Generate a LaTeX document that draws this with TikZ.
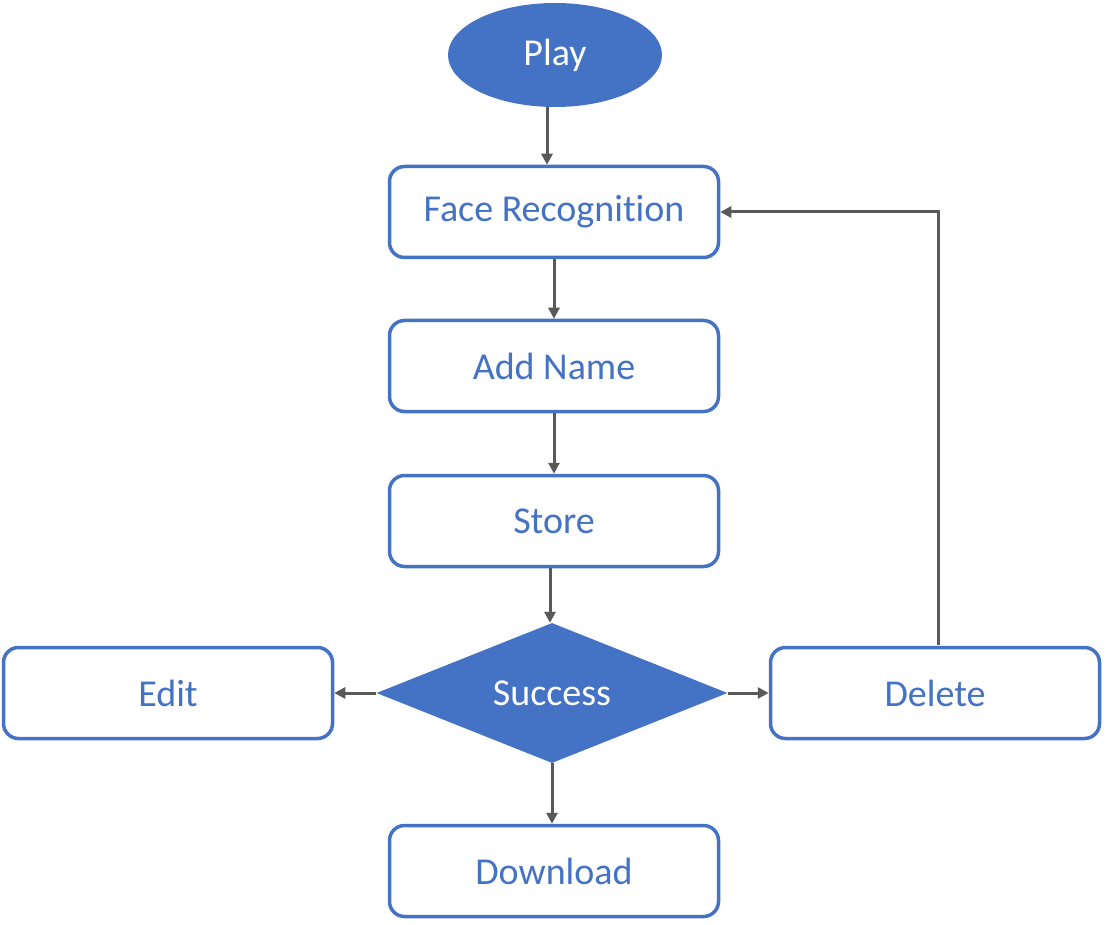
\documentclass[tikz,border=0pt]{standalone}
\usepackage{fontspec}
\setmainfont{Carlito}[RawFeature={-liga;-clig;-dlig}]
\usetikzlibrary{shapes.geometric,arrows.meta}
\definecolor{accent}{HTML}{4472C4}
\definecolor{linegray}{HTML}{595959}
\tikzset{
  labelfont/.style={font=\fontsize{38}{44}\selectfont},
  procbox/.style={draw=accent, line width=3.5pt, rounded corners=15pt, fill=white,
    minimum width=329pt, minimum height=91pt, text=accent, labelfont, inner sep=0pt},
  flow/.style={draw=linegray, line width=3pt, -{Triangle[length=11pt,width=11pt]}},
}
\begin{document}
\begin{tikzpicture}[x=1pt,y=-1pt]
\useasboundingbox (0,0) rectangle (1109,925);
\node[ellipse, fill=accent, minimum width=214pt, minimum height=104pt, inner sep=0pt,
  text=white, labelfont] (play) at (555,55) {Play};
\node[procbox] (face) at (554,212) {Face Recogni\kern0pt tion};
\node[procbox] (add) at (554,366) {Add Name};
\node[procbox] (store) at (554,521) {Store};
\node[diamond, fill=accent, minimum width=351pt, minimum height=140pt, aspect=2.5, inner sep=0pt,
  text=white, labelfont] (succ) at (552,693) {Success};
\node[procbox] (edit) at (168,693) {Edit};
\node[procbox] (del) at (935,693) {Delete};
\node[procbox] (down) at (554,871) {Download};
\coordinate (pb) at (547,107);
\draw[flow] (pb) -- (pb |- face.north);
\draw[flow] (face.south) -- (add.north);
\draw[flow] (add.south) -- (store.north);
\coordinate (sb) at (550,568);
\draw[flow] (sb) -- (sb |- succ.north);
\draw[flow] (succ.south) -- (succ.south |- down.north);
\draw[flow] (succ.west) -- (edit.east);
\draw[flow] (succ.east) -- (del.west);
\coordinate (dt) at (938,645);
\draw[flow] (dt) -- (dt |- face.east) -- (face.east);
\end{tikzpicture}
\end{document}
